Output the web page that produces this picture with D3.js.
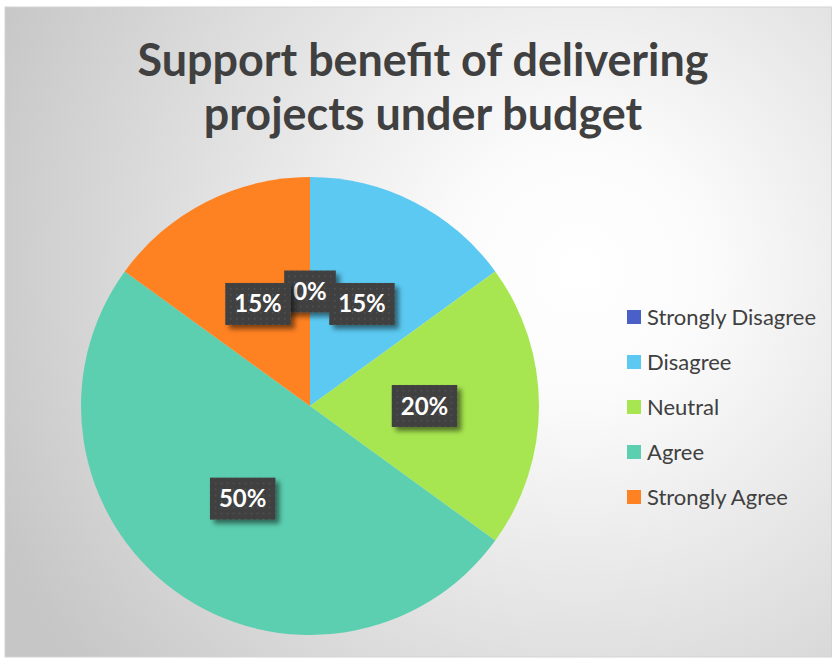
<!DOCTYPE html>
<html>
<head>
<meta charset="utf-8">
<script src="https://cdn.jsdelivr.net/npm/d3@7"></script>
<style>
  html, body { margin: 0; padding: 0; background: #ffffff; }
  svg { display: block; }
  text { font-family: Lato, "Open Sans", sans-serif; }
</style>
</head>
<body>
<svg id="chart" width="832" height="659"></svg>
<script>
// Survey responses
const categories = ["Strongly Disagree", "Disagree", "Neutral", "Agree", "Strongly Agree"];
const percentages = [0, 15, 20, 50, 15];
const sliceColors = ["#4a5fc7", "#5bc9f1", "#a7e650", "#5ccfb0", "#fe8122"];
const titleLines = ["Support benefit of delivering", "projects under budget"];

const svg = d3.select("#chart");
const W = 832, H = 659;

// Chart area background: soft radial grey gradient
const defs = svg.append("defs");
const bg = defs.append("radialGradient")
  .attr("id", "bgGrad")
  .attr("gradientUnits", "userSpaceOnUse")
  .attr("cx", 580).attr("cy", 270).attr("r", 640);
bg.append("stop").attr("offset", "0%").attr("stop-color", "#ffffff");
bg.append("stop").attr("offset", "20%").attr("stop-color", "#fbfbfb");
bg.append("stop").attr("offset", "100%").attr("stop-color", "#c6c6c6");

// Dotted texture for the data label boxes
const pat = defs.append("pattern")
  .attr("id", "dots")
  .attr("patternUnits", "userSpaceOnUse")
  .attr("width", 6).attr("height", 6);
pat.append("rect").attr("width", 6).attr("height", 6).attr("fill", "#404040");
pat.append("rect").attr("x", 2).attr("y", 2).attr("width", 1.5).attr("height", 1.5).attr("fill", "#545454");

// Drop shadow for label boxes
const sh = defs.append("filter").attr("id", "boxShadow")
  .attr("x", "-30%").attr("y", "-30%").attr("width", "170%").attr("height", "170%");
sh.append("feGaussianBlur").attr("in", "SourceAlpha").attr("stdDeviation", 2.5).attr("result", "b");
sh.append("feOffset").attr("in", "b").attr("dx", 4).attr("dy", 4).attr("result", "o");
sh.append("feComponentTransfer").attr("in", "o").attr("result", "s")
  .append("feFuncA").attr("type", "linear").attr("slope", 0.5);
const shm = sh.append("feMerge");
shm.append("feMergeNode").attr("in", "s");
shm.append("feMergeNode").attr("in", "SourceGraphic");

svg.append("rect")
  .attr("x", 5).attr("y", 7).attr("width", W - 5.5).attr("height", 650)
  .attr("fill", "url(#bgGrad)")
  .attr("stroke", "#d4d4d4").attr("stroke-width", 1);

// Title
const titleG = svg.append("g");
const titleBaselines = [76, 130];
const titleTexts = titleG.selectAll("text")
  .data(titleLines)
  .join("text")
  .attr("x", 423)
  .attr("y", (d, i) => titleBaselines[i])
  .attr("text-anchor", "middle")
  .attr("font-size", 46)
  .attr("font-weight", 700)
  .attr("fill", "#404040")
  .text(d => d);
const firstLen = titleTexts.nodes()[0].getComputedTextLength();
const titleScale = 571 / firstLen;
titleTexts.each(function() {
  const len = this.getComputedTextLength();
  d3.select(this).attr("textLength", len * titleScale).attr("lengthAdjust", "spacingAndGlyphs");
});

// Pie
const cx = 310, cy = 406, radius = 229;
const pie = d3.pie().sort(null).value(d => d.value);
const arcs = pie(categories.map((c, i) => ({ name: c, value: percentages[i], color: sliceColors[i] })));
const arc = d3.arc().innerRadius(0).outerRadius(radius);

const pieG = svg.append("g").attr("transform", `translate(${cx},${cy})`);
pieG.selectAll("path")
  .data(arcs)
  .join("path")
  .attr("d", arc)
  .attr("fill", d => d.data.color);

// Data labels (boxed, at slice centroids)
const labelG = pieG.append("g");
arcs.forEach(d => {
  const [lx, ly] = arc.centroid(d);
  const g = labelG.append("g").attr("transform", `translate(${lx},${ly})`);
  const rect = g.append("rect").attr("fill", "url(#dots)").attr("filter", "url(#boxShadow)");
  const t = g.append("text")
    .attr("text-anchor", "middle")
    .attr("y", 8.5)
    .attr("font-size", 24)
    .attr("font-weight", 700)
    .attr("fill", "#ffffff")
    .text(d.data.value + "%");
  const w = t.node().getComputedTextLength();
  const bw = w + 18, bh = 42;
  rect.attr("x", -bw / 2).attr("y", -bh / 2).attr("width", bw).attr("height", bh);
});

// Legend
const legendG = svg.append("g").attr("transform", "translate(627,317)");
const rowGap = 45;
const items = legendG.selectAll("g")
  .data(categories)
  .join("g")
  .attr("transform", (d, i) => `translate(0,${i * rowGap})`);
items.append("rect")
  .attr("x", 0).attr("y", -7).attr("width", 14).attr("height", 14)
  .attr("fill", (d, i) => sliceColors[i]);
const legTexts = items.append("text")
  .attr("x", 20).attr("y", 7.5)
  .attr("font-size", 22)
  .attr("fill", "#404040")
  .text(d => d);
const legLen0 = legTexts.nodes()[0].getComputedTextLength();
const legScale = 169 / legLen0;
legTexts.each(function() {
  const len = this.getComputedTextLength();
  d3.select(this).attr("textLength", len * legScale).attr("lengthAdjust", "spacingAndGlyphs");
});
</script>
</body>
</html>
